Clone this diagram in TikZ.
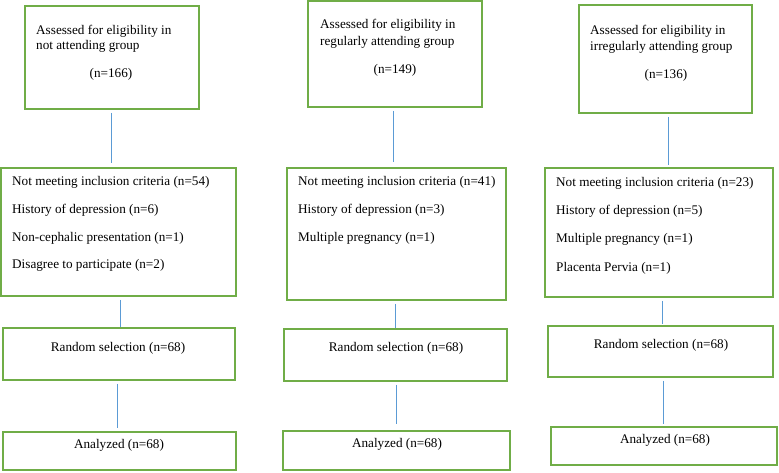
\documentclass[tikz,border=0pt]{standalone}
\usepackage{fontspec}
\setmainfont{Liberation Serif}
\definecolor{boxgreen}{RGB}{112,173,71}
\definecolor{connblue}{RGB}{91,155,213}
\begin{document}
\begin{tikzpicture}[x=1pt,y=-1pt,
  box/.style={draw=boxgreen,line width=1.8pt,inner sep=0pt},
  conn/.style={draw=connblue,line width=0.9pt,shorten <=3pt},
  lbl/.style={inner sep=0pt,anchor=mid west,font=\fontsize{13.2}{15.8}\selectfont},
  ctr/.style={inner sep=0pt,anchor=mid,font=\fontsize{13.2}{15.8}\selectfont}]
\useasboundingbox (0,0) rectangle (779,472);
\newcommand{\bx}[5]{\node[box,minimum width={#4-#2},minimum height={#5-#3}] (#1) at ({(#2+#4)/2},{(#3+#5)/2}) {};}
% column 1
\bx{a1}{25}{6}{199}{109}
\bx{b1}{1}{168}{236}{296}
\bx{c1}{3}{328}{235}{380}
\bx{d1}{3}{432}{236}{470}
% column 2
\bx{a2}{308}{1}{482}{107}
\bx{b2}{287}{168}{506}{300}
\bx{c2}{284}{329}{507}{381}
\bx{d2}{283}{431}{510}{470}
% column 3
\bx{a3}{579}{5}{752}{113}
\bx{b3}{545}{168}{773}{297}
\bx{c3}{548}{326}{773}{377}
\bx{d3}{551}{427}{777}{465}
% texts column 1
\node[lbl] (a1t1) at (36,32) {Assessed for eligibility in};
\node[lbl] (a1t2) at (36,47) {not attending group};
\node[ctr] (a1t3) at (111,75) {(n=166)};
\node[lbl] (b1t1) at (12,183) {Not meeting inclusion criteria (n=54)};
\node[lbl] (b1t2) at (12,211) {History of depression (n=6)};
\node[lbl] (b1t3) at (12,239) {Non-cephalic presentation (n=1)};
\node[lbl] (b1t4) at (12,266) {Disagree to participate (n=2)};
\node[ctr] (c1t) at (118,349) {Random selection (n=68)};
\node[ctr] (d1t) at (119,446) {Analyzed (n=68)};
% texts column 2
\node[lbl] (a2t1) at (320,26) {Assessed for eligibility in};
\node[lbl] (a2t2) at (320,43) {regularly attending group};
\node[ctr] (a2t3) at (395,71) {(n=149)};
\node[lbl] (b2t1) at (298,183) {Not meeting inclusion criteria (n=41)};
\node[lbl] (b2t2) at (298,211) {History of depression (n=3)};
\node[lbl] (b2t3) at (298,239) {Multiple pregnancy (n=1)};
\node[ctr] (c2t) at (396,349) {Random selection (n=68)};
\node[ctr] (d2t) at (397,445) {Analyzed (n=68)};
% texts column 3
\node[lbl] (a3t1) at (590,32) {Assessed for eligibility in};
\node[lbl] (a3t2) at (590,48) {irregularly attending group};
\node[ctr] (a3t3) at (666,76) {(n=136)};
\node[lbl] (b3t1) at (556,184) {Not meeting inclusion criteria (n=23)};
\node[lbl] (b3t2) at (556,212) {History of depression (n=5)};
\node[lbl] (b3t3) at (556,240) {Multiple pregnancy (n=1)};
\node[lbl] (b3t4) at (556,269) {Placenta Pervia (n=1)};
\node[ctr] (c3t) at (661,346) {Random selection (n=68)};
\node[ctr] (d3t) at (665,441) {Analyzed (n=68)};
% connectors
\draw[conn,shorten >=4pt] ([xshift=-1pt]a1.south) -- ([xshift=-1pt]a1.south |- b1.north);
\draw[conn] ([xshift=1.5pt]b1.south) -- ([xshift=1.5pt]b1.south |- c1.north);
\draw[conn,shorten >=3pt] ([xshift=-2pt]c1.south) -- ([xshift=-2pt]c1.south |- d1.north);
\draw[conn,shorten >=5pt] ([xshift=-2pt]a2.south) -- ([xshift=-2pt]a2.south |- b2.north);
\draw[conn] ([xshift=-1.5pt]b2.south) -- ([xshift=-1.5pt]b2.south |- c2.north);
\draw[conn,shorten >=6pt] ([xshift=0.5pt]c2.south) -- ([xshift=0.5pt]c2.south |- d2.north);
\draw[conn,shorten >=2pt] ([xshift=2.5pt]a3.south) -- ([xshift=2.5pt]a3.south |- b3.north);
\draw[conn,shorten >=1pt] ([xshift=3.5pt]b3.south) -- ([xshift=3.5pt]b3.south |- c3.north);
\draw[conn,shorten >=2pt] ([xshift=2.5pt]c3.south) -- ([xshift=2.5pt]c3.south |- d3.north);
\end{tikzpicture}
\end{document}
